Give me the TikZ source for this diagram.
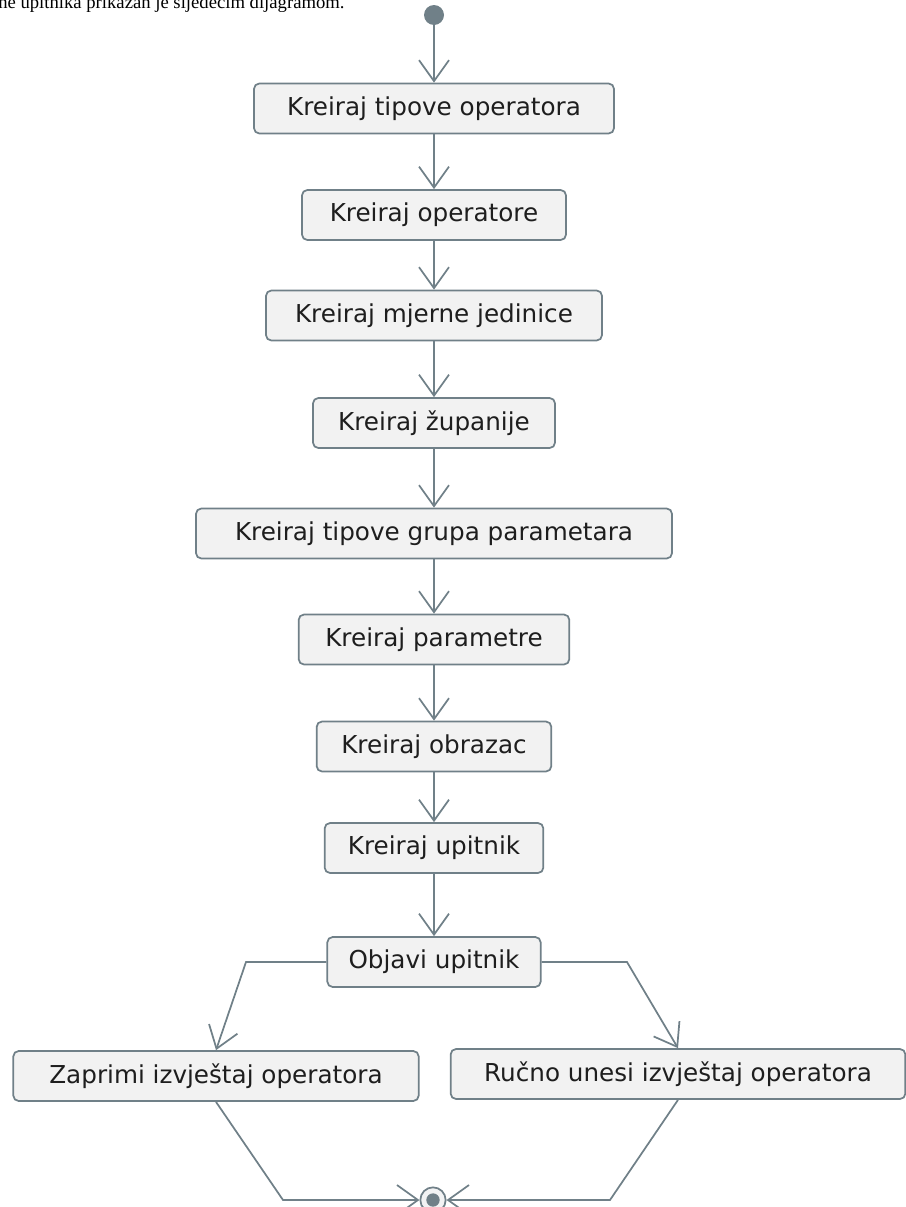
\documentclass[tikz,border=0pt]{standalone}
\usepackage{fontspec}
\setmainfont{DejaVu Sans}
\newfontfamily\uvodfont{Liberation Serif}
\usepackage{tikz}
\usepackage{xcolor}
\usetikzlibrary{arrows.meta, positioning, calc}

\definecolor{linec}{RGB}{112,128,136}
\definecolor{boxfill}{RGB}{242,242,242}
\definecolor{txtc}{RGB}{30,30,30}

\tikzset{
    akt/.style={draw=linec, fill=boxfill, line width=1.3pt, rounded corners=4pt,
        minimum height=37.5pt, text=txtc, font=\fontsize{18.5pt}{20pt}\selectfont},
    poc/.style={circle, fill=linec, minimum size=15pt, inner sep=0pt},
    kraj/.style={circle, draw=linec, fill=boxfill!60!linec!20, line width=1.3pt,
        minimum size=19pt, inner sep=0pt,
        path picture={\fill[linec] (path picture bounding box.center) circle (5pt);}},
    tok/.style={draw=linec, line width=1.3pt, -{Straight Barb[length=15.75pt, width=22.5pt]}}
}

\begin{document}
\begin{tikzpicture}[x=0.75pt, y=0.75pt]
                        \useasboundingbox (0,0) rectangle (906,-1207);

                        \node[anchor=base west, inner sep=0pt, font=\fontsize{14pt}{16pt}\uvodfont] (uvod) at (-2,-8) {ne upitnika prikazan je sljedećim dijagramom.};

                        \node[poc] (start) at (434,-15) {};
                        \node[akt, minimum width=270pt] (k1) at (434,-108.5) {Kreiraj tipove operatora};
                        \node[akt, minimum width=198pt] (k2) at (434,-215) {Kreiraj operatore};
                        \node[akt, minimum width=252pt] (k3) at (434,-315.5) {Kreiraj mjerne jedinice};
                        \node[akt, minimum width=181.5pt] (k4) at (434,-423) {Kreiraj županije};
                        \node[akt, minimum width=357pt] (k5) at (434,-533.5) {Kreiraj tipove grupa parametara};
                        \node[akt, minimum width=203pt] (k6) at (434,-639.5) {Kreiraj parametre};
                        \node[akt, minimum width=176pt] (k7) at (434,-746.5) {Kreiraj obrazac};
                        \node[akt, minimum width=164pt] (k8) at (434,-848) {Kreiraj upitnik};
                        \node[akt, minimum width=160pt] (obj) at (434,-962) {Objavi upitnik};
                        \node[akt, minimum width=304pt] (zap) at (216,-1076) {Zaprimi izvještaj operatora};
                        \node[akt, minimum width=341pt] (ruc) at (678,-1074) {Ručno unesi izvještaj operatora};
                        \node[kraj] (stop) at (433,-1200) {};

                        \coordinate (l1) at (246,-962);
                        \coordinate (d1) at (627,-962);
                        \coordinate (l2) at (283,-1200);
                        \coordinate (d2) at (610,-1200);

                        \path[tok]
                        (start) -- (k1);
                        \path[tok] (k1) -- (k2);
                        \path[tok] (k2) -- (k3);
                        \path[tok] (k3) -- (k4);
                        \path[tok] (k4) -- (k5);
                        \path[tok] (k5) -- (k6);
                        \path[tok] (k6) -- (k7);
                        \path[tok] (k7) -- (k8);
                        \path[tok] (k8) -- (obj);
                        \path[tok] (obj.west) -- (l1) -- (zap.north);
                        \path[tok] (obj.east) -- (d1) -- (ruc.north);
                        \path[tok] (zap.south) -- (l2) -- (stop);
                        \path[tok] (ruc.south) -- (d2) -- (stop);
                    \end{tikzpicture}
\end{document}
